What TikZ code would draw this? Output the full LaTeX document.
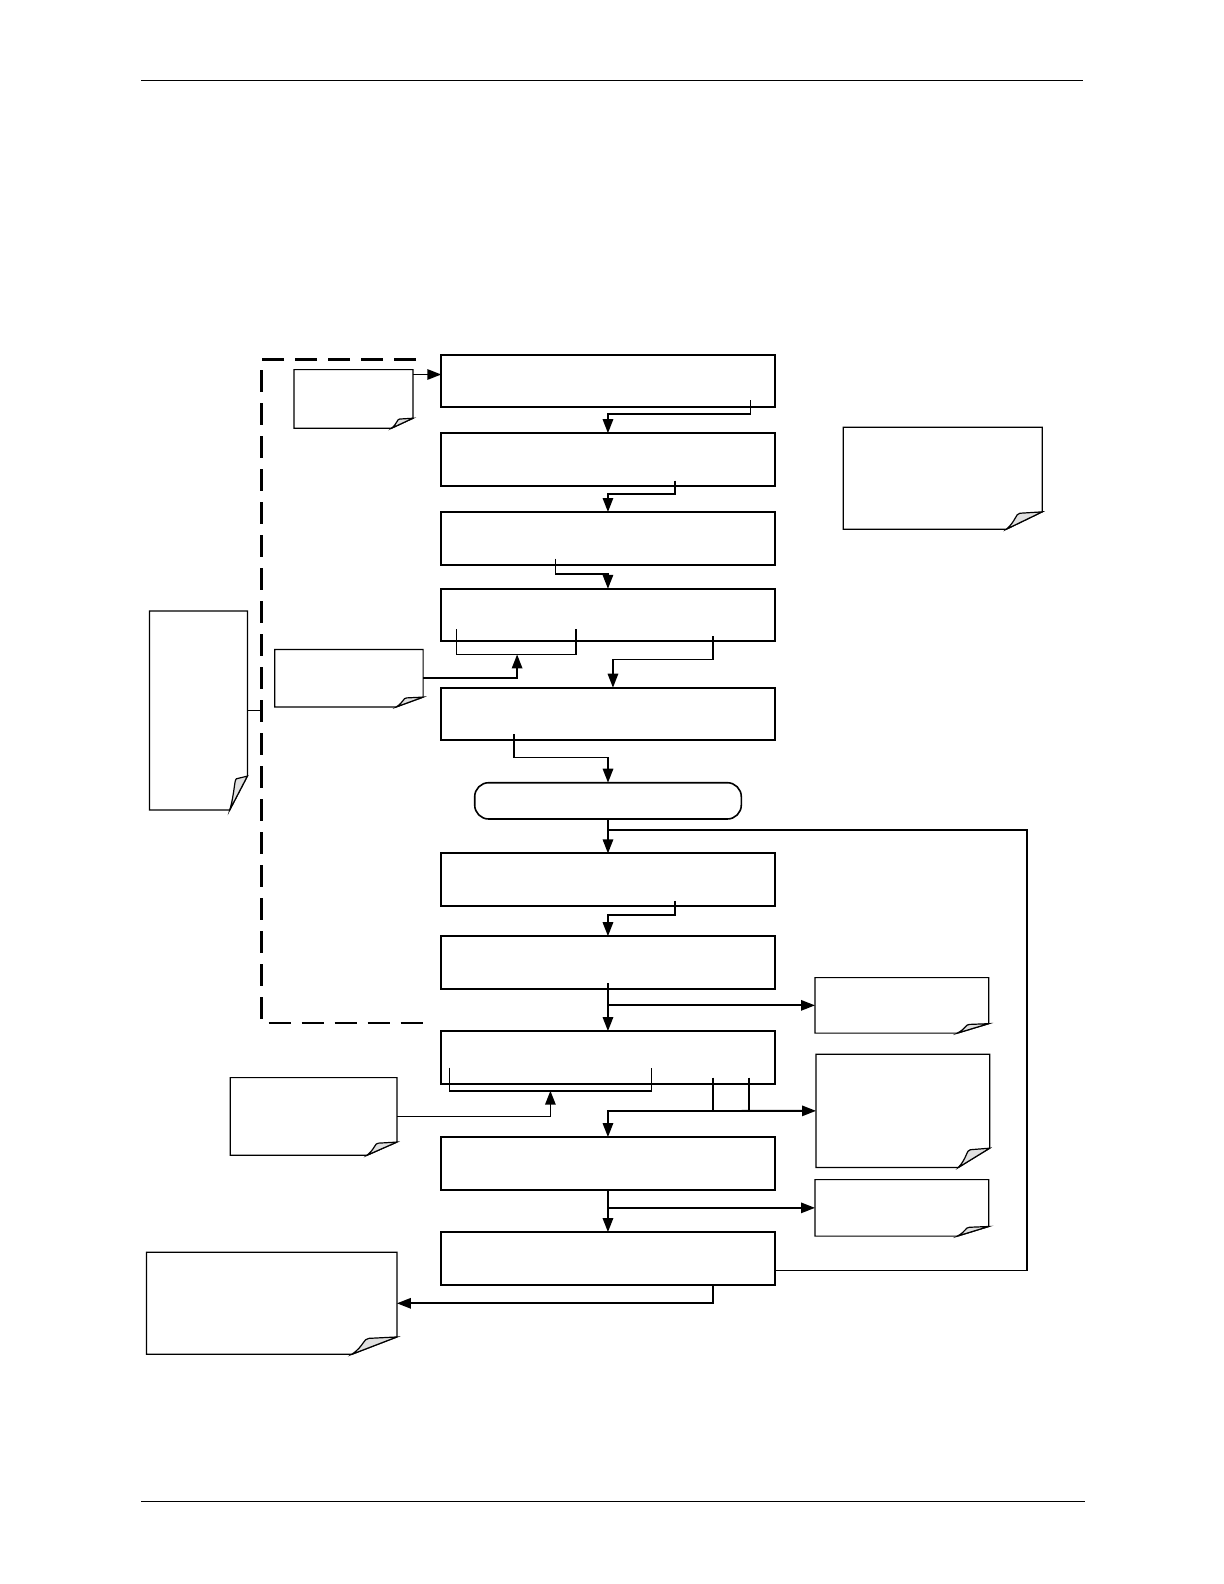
\documentclass[tikz,border=0pt]{standalone}
\usetikzlibrary{arrows.meta,calc,fit}
\tikzset{
 procbox/.style={draw, line width=1pt, inner sep=0pt, outer sep=0pt},
 docbox/.style={inner sep=0pt, outer sep=0pt},
 termbox/.style={draw, line width=0.8pt, rounded corners=7pt, inner sep=0pt, outer sep=0pt},
 conn/.style={line width=0.9pt},
 arr/.style={conn, -{Triangle[length=7pt,width=5.2pt]}},
 docline/.style={line width=0.6pt},
 dashline/.style={line width=1.4pt, dash pattern=on 11pt off 5.5pt},
 pagerule/.style={line width=0.7pt}
}
\newcommand{\curldoc}[1]{%
 \draw[docline] let \p1=(#1.south west), \p2=(#1.north east), \n1={0.18*(\x2-\x1)}, \n2={0.17*(\y2-\y1)} in
   (\x1,\y2) -- (\x2,\y2) -- (\x2,\y1+\n2) -- (\x2-\n1,\y1) -- (\x1,\y1) -- cycle;
 \filldraw[docline, fill=black!12] let \p1=(#1.south west), \p2=(#1.north east), \n1={0.18*(\x2-\x1)}, \n2={0.17*(\y2-\y1)} in
   (\x2-\n1,\y1) .. controls (\x2-0.72*\n1,\y1+0.5*\n2) and (\x2-0.75*\n1,\y1+0.9*\n2) .. (\x2-0.62*\n1,\y1+0.92*\n2) -- (\x2,\y1+\n2) -- cycle;
}
\begin{document}
\begin{tikzpicture}[x=0.5pt,y=-0.5pt]
\useasboundingbox (0,0) rectangle (1224,1584);
% page rules
\draw[pagerule] (141.4,80.8) -- (1082.6,80.8);
\draw[pagerule] (141.4,1501.7) -- (1084.6,1501.7);
% process boxes
\node[procbox, fit={(441.3,354.5) (774.6,407.0)}] (b1) {};
\node[procbox, fit={(441.3,433.2) (774.6,485.8)}] (b2) {};
\node[procbox, fit={(441.3,512.0) (774.6,564.5)}] (b3) {};
\node[procbox, fit={(441.3,588.8) (774.6,641.3)}] (b4) {};
\node[procbox, fit={(441.3,687.7) (774.6,740.3)}] (b5) {};
\node[termbox, fit={(474.7,782.7) (741.3,819.0)}] (t) {};
\node[procbox, fit={(441.3,853.4) (774.6,905.9)}] (b6) {};
\node[procbox, fit={(441.3,936.2) (774.6,988.7)}] (b7) {};
\node[procbox, fit={(441.3,1031.1) (774.6,1083.6)}] (b8) {};
\node[procbox, fit={(441.3,1137.1) (774.6,1189.7)}] (b9) {};
\node[procbox, fit={(441.3,1232.1) (774.6,1284.6)}] (b10) {};
% document shapes
\node[docbox, fit={(293.9,369.6) (413.0,428.2)}] (d1) {};
\node[docbox, fit={(843.3,427.2) (1042.2,529.2)}] (d2) {};
\node[docbox, fit={(149.5,611.0) (247.4,809.9)}] (d3) {};
\node[docbox, fit={(274.7,649.4) (423.1,706.9)}] (d4) {};
\node[docbox, fit={(815.0,977.6) (988.7,1033.1)}] (d5) {};
\node[docbox, fit={(816.0,1054.3) (989.7,1167.4)}] (d6) {};
\node[docbox, fit={(815.0,1179.6) (988.7,1236.1)}] (d7) {};
\node[docbox, fit={(230.3,1077.6) (396.9,1155.3)}] (d8) {};
\node[docbox, fit={(146.4,1252.3) (396.9,1354.3)}] (d9) {};
\foreach \d in {d1,d2,d3,d4,d5,d6,d7,d8,d9} {\curldoc{\d}}
% dashed feedback frame
\draw[dashline] (416.1,359.5) -- (261.6,359.5) -- (261.6,1023.0) -- (424.2,1023.0);
\draw[conn] (d3.east) -- (d3.east -| 261.6,0);
\draw[conn] (261.6,702) -- (261.6,719);
% connectors
\coordinate (a1) at (413.0,374.5);
\draw[arr] (a1) -- (a1 -| b1.west);
\draw[arr] (750.4,400.0) -- (750.4,414.1) -| (b2.north);
\draw[arr] (674.6,480.7) -- (674.6,493.8) -| (b3.north);
\draw[arr] (555.4,558.5) -- (555.4,573.6) -| (b4.north);
% bracket in b4
\coordinate (br1) at (517.1,654.4);
\draw[conn] (456.5,629.2) |- (575.6,654.4) -- (575.6,629.2);
\draw[arr] (d4.east) -| (br1);
\draw[arr] (713.0,636.2) -- (713.0,659.5) -| ($(b5.north)+(5,0)$);
\draw[arr] (514.0,734.2) -- (514.0,757.4) -| (t.north);
\draw[arr] (t.south) -- (b6.north);
% loop back from b10
\draw[conn] (774.6,1270.5) -- (1027.1,1270.5) -- (1027.1,830.1) -- (608.0,830.1);
\draw[arr] (674.6,900.8) -- (674.6,915.0) -| (b7.north);
\draw[arr] (608.0,983.0) -- (b8.north);
\draw[arr] (d5.west -| b7.south) -- (d5.west);
% bracket in b8
\coordinate (br2) at (550.4,1090.7);
\draw[conn] (449.4,1067.5) |- (651.4,1090.7) -- (651.4,1067.5);
\draw[arr] (d8.east) -| (br2);
\draw[conn] (713.0,1077.6) -- (713.0,1110.9);
\draw[conn] (749.3,1077.6) -- (749.3,1110.9);
\draw[arr] (713.0,1110.9) -- (d6.west);
\draw[arr] (713.0,1110.9) -| (b9.north);
\draw[arr] (b9.south) -- (b10.north);
\draw[arr] (d7.west -| b9.south) -- (d7.west);
\draw[arr] (713.0,1284.6) |- (d9.east);
\end{tikzpicture}
\end{document}
